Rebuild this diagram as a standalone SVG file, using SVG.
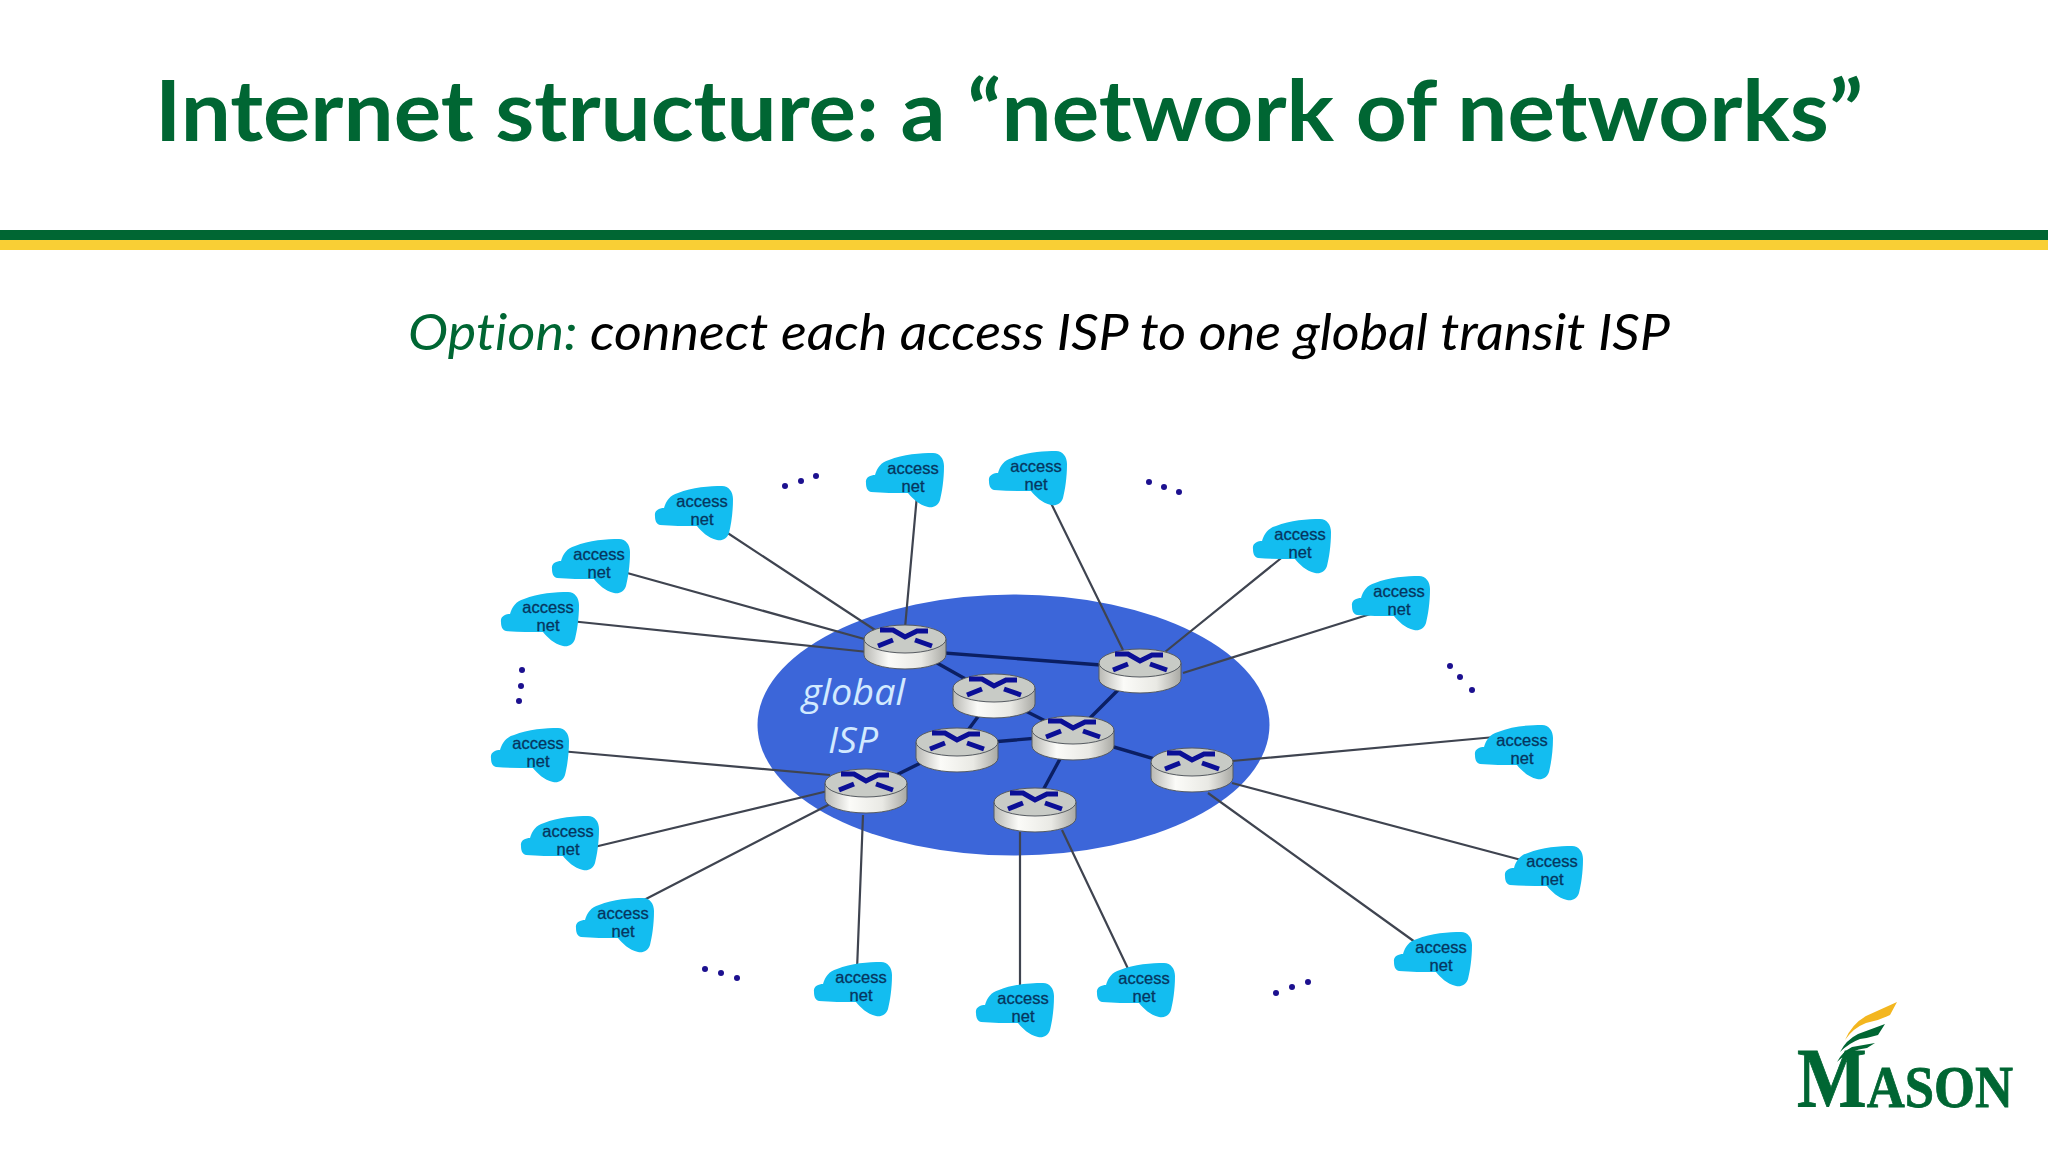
<svg xmlns="http://www.w3.org/2000/svg" width="2048" height="1152" viewBox="0 0 2048 1152">
<style>
text{font-variant-ligatures:none}
.acc{font:16.5px "Liberation Sans",Arial,sans-serif;fill:#06365f;stroke:#06365f;stroke-width:.3;text-anchor:middle}
.cl{fill:#13bdf0}
.l{stroke:#3f4450;stroke-width:2.2;fill:none}
.b{stroke:#0b1f63;stroke-width:3.4;fill:none}
.d{fill:#1c108f}
.x{stroke:#0b0f96;stroke-width:5;fill:none}
.gl{font:italic 36px "Open Sans",sans-serif;fill:#d2eaff}
</style>
<defs>
<linearGradient id="side" x1="0" x2="1" y1="0" y2="0"><stop offset="0" stop-color="#b9b9b4"/><stop offset=".3" stop-color="#fbfbf8"/><stop offset=".7" stop-color="#e9e9e4"/><stop offset="1" stop-color="#a9a9a4"/></linearGradient>
<g id="router">
<path d="M-41 0V16A41 14 0 0 0 41 16V0Z" fill="url(#side)" stroke="#555a60" stroke-width="1"/>
<ellipse rx="41" ry="14" fill="#c8cbc6" stroke="#555a60" stroke-width="1"/>
<path class="x" d="M-25-9H-12L0-2 12-8H23M-27 7-12 1M10 1 27 7"/>
</g>
<g id="cloud"><path class="cl" d="M-47 3C-48-3-42-5-38-5C-36-12-32-18-24-20C-10-26 8-27 20-27C27-27 31-21 31-14C31 0 29 12 27 20C25 26 20 28 15 27C6 25-1 18-5 13C-18 13-30 13-42 12C-46 11-47 7-47 3Z"/></g>
</defs>
<rect width="2048" height="1152" fill="#fff"/>
<text x="155" y="141" textLength="1708" lengthAdjust="spacingAndGlyphs" font-family="Lato,&quot;Open Sans&quot;,sans-serif" font-weight="700" font-size="85" fill="#006633">Internet structure: a “network of networks”</text>
<rect y="230" width="2048" height="11" fill="#006633"/>
<rect y="240" width="2048" height="10" fill="#f9cf35"/>
<text x="408" y="350" textLength="1262" lengthAdjust="spacingAndGlyphs" font-family="Lato,&quot;Open Sans&quot;,sans-serif" font-style="italic" font-size="50" fill="#000"><tspan fill="#006633">Option:</tspan> connect each access ISP to one global transit ISP</text>
<ellipse id="global-isp" cx="1013.5" cy="725" rx="256" ry="130.5" fill="#3c66d9"/>
<text class="gl" x="802" y="705" textLength="103" lengthAdjust="spacingAndGlyphs">global</text>
<text class="gl" x="828" y="753" textLength="50" lengthAdjust="spacingAndGlyphs">ISP</text>
<g id="connectors">
<path class="l" d="M720 528 875 630M620 571 868 640M570 621 868 652M917 495 905 628M1048 497 1123 650M1285 555 1165 652M1380 611 1183 673M1495 737 1232 761M1525 861 1232 783M1415 942 1208 793M1131 975 1062 830M1020 990 1020 832M857 970 863 815M642 901 832 803M590 848 832 790M560 751 830 775"/>
<path class="b" d="M905 650 1140 668M905 645 994 695M994 695 1073 735M994 695 957 745M1073 735 957 745M1073 735 1140 668M1073 735 1192 770M1073 735 1035 805M957 745 866 790"/>
</g>
<g id="router-1"><use href="#router" x="905" y="639"/></g>
<g id="router-2"><use href="#router" x="1140" y="663"/></g>
<g id="router-3"><use href="#router" x="994" y="688"/></g>
<g id="router-4"><use href="#router" x="1073" y="730"/></g>
<g id="router-5"><use href="#router" x="957" y="742"/></g>
<g id="router-6"><use href="#router" x="866" y="783"/></g>
<g id="router-7"><use href="#router" x="1035" y="802"/></g>
<g id="router-8"><use href="#router" x="1192" y="762"/></g>
<g id="access-1" transform="translate(702 513)"><use href="#cloud"/><text class="acc" y="-6">access</text><text class="acc" y="12">net</text></g>
<g id="access-2" transform="translate(913 480)"><use href="#cloud"/><text class="acc" y="-6">access</text><text class="acc" y="12">net</text></g>
<g id="access-3" transform="translate(1036 478)"><use href="#cloud"/><text class="acc" y="-6">access</text><text class="acc" y="12">net</text></g>
<g id="access-4" transform="translate(1300 546)"><use href="#cloud"/><text class="acc" y="-6">access</text><text class="acc" y="12">net</text></g>
<g id="access-5" transform="translate(1399 603)"><use href="#cloud"/><text class="acc" y="-6">access</text><text class="acc" y="12">net</text></g>
<g id="access-6" transform="translate(1522 752)"><use href="#cloud"/><text class="acc" y="-6">access</text><text class="acc" y="12">net</text></g>
<g id="access-7" transform="translate(1552 873)"><use href="#cloud"/><text class="acc" y="-6">access</text><text class="acc" y="12">net</text></g>
<g id="access-8" transform="translate(1441 959)"><use href="#cloud"/><text class="acc" y="-6">access</text><text class="acc" y="12">net</text></g>
<g id="access-9" transform="translate(1144 990)"><use href="#cloud"/><text class="acc" y="-6">access</text><text class="acc" y="12">net</text></g>
<g id="access-10" transform="translate(1023 1010)"><use href="#cloud"/><text class="acc" y="-6">access</text><text class="acc" y="12">net</text></g>
<g id="access-11" transform="translate(861 989)"><use href="#cloud"/><text class="acc" y="-6">access</text><text class="acc" y="12">net</text></g>
<g id="access-12" transform="translate(623 925)"><use href="#cloud"/><text class="acc" y="-6">access</text><text class="acc" y="12">net</text></g>
<g id="access-13" transform="translate(568 843)"><use href="#cloud"/><text class="acc" y="-6">access</text><text class="acc" y="12">net</text></g>
<g id="access-14" transform="translate(538 755)"><use href="#cloud"/><text class="acc" y="-6">access</text><text class="acc" y="12">net</text></g>
<g id="access-15" transform="translate(548 619)"><use href="#cloud"/><text class="acc" y="-6">access</text><text class="acc" y="12">net</text></g>
<g id="access-16" transform="translate(599 566)"><use href="#cloud"/><text class="acc" y="-6">access</text><text class="acc" y="12">net</text></g>
<g id="dots" class="d">
<circle cx="785" cy="486" r="3"/><circle cx="801" cy="481" r="3"/><circle cx="816" cy="476" r="3"/>
<circle cx="1149" cy="482" r="3"/><circle cx="1164" cy="487" r="3"/><circle cx="1179" cy="492" r="3"/>
<circle cx="1450" cy="666" r="3"/><circle cx="1460" cy="677" r="3"/><circle cx="1472" cy="690" r="3"/>
<circle cx="522" cy="670" r="3"/><circle cx="521" cy="686" r="3"/><circle cx="519" cy="701" r="3"/>
<circle cx="705" cy="969" r="3"/><circle cx="721" cy="973" r="3"/><circle cx="737" cy="978" r="3"/>
<circle cx="1276" cy="993" r="3"/><circle cx="1292" cy="987" r="3"/><circle cx="1308" cy="982" r="3"/>
</g>
<g id="mason-logo">
<path fill="#f3b61f" d="M1845 1040Q1852 1024 1866 1016L1897 1002 1890 1015Q1878 1021 1866 1023 1853 1028 1845 1040Z"/>
<path fill="#006633" d="M1840 1052Q1846 1040 1858 1034L1885 1024 1878 1035Q1868 1038 1860 1039 1849 1043 1840 1052ZM1837 1062Q1842 1052 1852 1047L1875 1043 1867 1048Q1858 1049 1852 1052 1843 1056 1837 1062Z"/>
<text x="1797" y="1107" textLength="216" lengthAdjust="spacingAndGlyphs" font-family="&quot;Liberation Serif&quot;,serif" font-weight="700" fill="#006633" stroke="#006633" stroke-width=".8" font-size="60"><tspan font-size="84">M</tspan>ASON</text>
</g>
</svg>
